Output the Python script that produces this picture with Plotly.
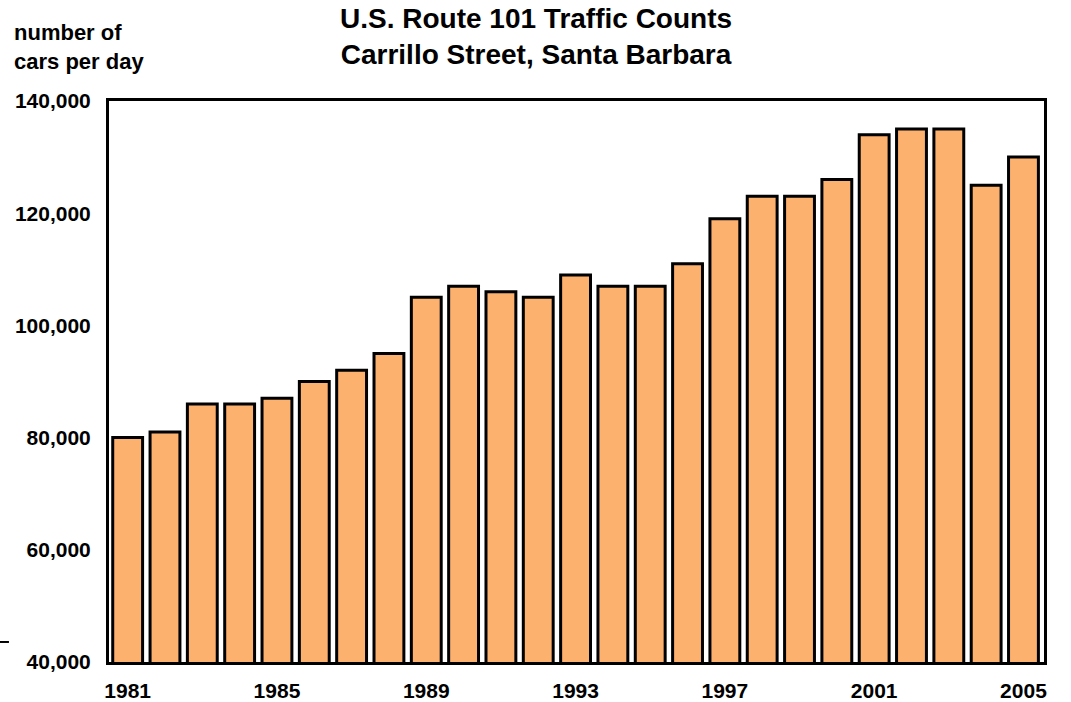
import plotly.graph_objects as go

years = list(range(1981, 2006))
cars_per_day = [80000, 81000, 86000, 86000, 87000, 90000, 92000, 95000,
                105000, 107000, 106000, 105000, 109000, 107000, 107000, 111000,
                119000, 123000, 123000, 126000, 134000, 135000, 135000, 125000,
                130000]
x_ticks = [1981, 1985, 1989, 1993, 1997, 2001, 2005]
y_ticks = [40000, 60000, 80000, 100000, 120000, 140000]

font = 'Liberation Sans, Arial, sans-serif'

fig = go.Figure(go.Bar(x=years, y=cars_per_day,
                       marker_color='#FDB16E',
                       marker_line_color='black',
                       marker_line_width=3))

fig.update_layout(
    width=1071, height=702,
    margin=dict(l=109, r=27, t=101, b=40),
    paper_bgcolor='white', plot_bgcolor='white',
    bargap=0.2,
    showlegend=False,
    font=dict(family=font, color='black'),
)
fig.update_xaxes(range=[1980.5, 2005.55], tickvals=x_ticks,
                 ticktext=['<b>%d</b>' % y for y in x_ticks],
                 tickfont=dict(size=21), ticks='', ticklabelstandoff=8,
                 showline=True, linecolor='black', linewidth=3, mirror=True,
                 showgrid=False, zeroline=False, automargin=False)
fig.update_yaxes(range=[40000, 140000], tickvals=y_ticks,
                 ticktext=['<b>{:,}</b>'.format(v) for v in y_ticks],
                 tickfont=dict(size=21), ticks='', ticklabelstandoff=11,
                 showline=True, linecolor='black', linewidth=3, mirror=True,
                 showgrid=False, zeroline=False, automargin=False)

# two-line title, centred on the page rather than the plot
fig.add_annotation(text='<b>U.S. Route 101 Traffic Counts<br>Carrillo Street, Santa Barbara</b>',
                   xref='paper', yref='paper', x=0.457, y=1.115,
                   xanchor='center', yanchor='middle', align='center',
                   showarrow=False, font=dict(size=28, family=font))

fig.add_annotation(text='<b>number of<br>cars per day</b>',
                   xref='paper', yref='paper', x=-0.104, y=1.148,
                   xanchor='left', yanchor='top', align='left',
                   showarrow=False, font=dict(size=22, family=font))

# stray dash at far left
fig.add_shape(type='line', xref='paper', yref='paper',
              x0=-0.1166, x1=-0.107, y0=0.0357, y1=0.0357,
              line=dict(color='black', width=2))

fig.write_html("out.html", config={'displayModeBar': False},
               post_script="document.body.style.margin='0';")
